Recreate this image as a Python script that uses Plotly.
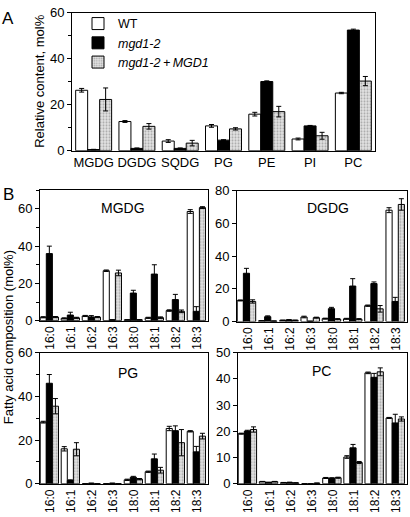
import plotly.graph_objects as go

FONT = "Liberation Sans, Arial, sans-serif"

# ---------------- Panel A data ----------------
lipid_classes = ["MGDG", "DGDG", "SQDG", "PG", "PE", "PI", "PC"]
a_wt = [26.3, 12.7, 4.2, 10.8, 15.9, 5.1, 25.1]
a_wt_err = [0.8, 0.4, 0.6, 0.6, 0.8, 0.4, 0.3]
a_mgd = [0.5, 1.0, 1.0, 4.6, 30.1, 10.8, 52.5]
a_mgd_err = [0.1, 0.2, 0.2, 0.2, 0.3, 0.2, 0.4]
a_comp = [22.3, 10.6, 3.3, 9.5, 17.0, 6.5, 30.3]
a_comp_err = [5.0, 1.2, 1.2, 0.5, 2.3, 1.5, 2.0]

# ---------------- Panel B data ----------------
fatty_acids = ["16:0", "16:1", "16:2", "16:3", "18:0", "18:1", "18:2", "18:3"]

mgdg_wt = [1.8, 1.2, 2.5, 26.8, 0.4, 1.5, 5.4, 58.6]
mgdg_wt_err = [0.3, 0.3, 0.3, 0.4, 0.1, 0.3, 0.4, 1.0]
mgdg_mgd = [36.0, 3.0, 2.0, 0.4, 14.8, 25.0, 11.3, 5.0]
mgdg_mgd_err = [4.0, 1.5, 0.7, 0.1, 1.5, 5.0, 2.8, 2.5]
mgdg_comp = [1.9, 1.5, 1.9, 25.6, 0.4, 1.6, 5.0, 60.7]
mgdg_comp_err = [0.3, 0.3, 0.3, 1.5, 0.1, 0.4, 0.7, 0.5]

dgdg_wt = [12.9, 0.5, 0.8, 2.8, 1.8, 1.7, 9.7, 68.0]
dgdg_wt_err = [0.3, 0.1, 0.1, 0.5, 0.3, 0.3, 0.4, 1.5]
dgdg_mgd = [29.5, 3.0, 1.0, 0.2, 7.9, 21.7, 23.2, 12.3]
dgdg_mgd_err = [3.0, 0.5, 0.2, 0.1, 0.8, 4.5, 1.0, 2.5]
dgdg_comp = [12.3, 0.3, 0.8, 2.4, 1.5, 1.5, 7.8, 71.5]
dgdg_comp_err = [1.0, 0.1, 0.1, 0.3, 0.3, 0.3, 2.0, 3.5]

pg_wt = [28.2, 16.0, 0.0, 0.0, 1.8, 5.5, 25.3, 24.0]
pg_wt_err = [0.4, 1.0, 0.0, 0.0, 0.3, 0.3, 1.0, 0.3]
pg_mgd = [46.0, 1.5, 0.2, 0.2, 3.0, 11.4, 24.3, 14.6]
pg_mgd_err = [4.0, 0.3, 0.1, 0.1, 0.4, 2.2, 2.2, 2.5]
pg_comp = [35.5, 15.8, 0.0, 0.0, 2.1, 6.2, 18.8, 21.8]
pg_comp_err = [3.5, 3.0, 0.0, 0.0, 0.3, 1.3, 6.0, 1.3]

pc_wt = [19.1, 0.8, 0.4, 0.0, 2.2, 10.2, 42.3, 25.1]
pc_wt_err = [0.2, 0.1, 0.1, 0.0, 0.2, 0.5, 0.3, 0.2]
pc_mgd = [20.1, 0.5, 0.5, 0.0, 2.1, 13.7, 40.6, 23.2]
pc_mgd_err = [0.3, 0.1, 0.1, 0.0, 0.2, 1.3, 1.5, 3.3]
pc_comp = [20.7, 0.8, 0.3, 0.2, 2.3, 8.1, 42.7, 24.7]
pc_comp_err = [1.0, 0.1, 0.1, 0.1, 0.2, 0.4, 1.5, 0.8]

W, H = 410, 517

def px_x(a, b):
    return [a / W, b / W]

def px_y(top, bottom):
    return [1 - bottom / H, 1 - top / H]

series_names = ["WT", "<i>mgd1-2</i>", "<i>mgd1-2\u2009+\u2009MGD1</i>"]

def bar_style(i):
    if i == 0:
        return dict(color="white", line=dict(color="black", width=1))
    if i == 1:
        return dict(color="black", line=dict(color="black", width=1))
    return dict(color="#e2e2e2", line=dict(color="black", width=1),
                pattern=dict(shape=".", fgcolor="#6e6e6e", bgcolor="#e2e2e2",
                             size=3, solidity=0.35))

fig = go.Figure()

def add_group(xcats, vals_list, errs_list, xa, ya, width, offsets, legend):
    for i, (v, e) in enumerate(zip(vals_list, errs_list)):
        fig.add_trace(go.Bar(
            x=xcats, y=v, name=series_names[i], xaxis=xa, yaxis=ya,
            width=width, offset=offsets[i],
            marker=bar_style(i),
            error_y=dict(type="data", array=e, visible=True, color="black",
                         thickness=1, width=2.5),
            showlegend=legend, legendgroup=str(i),
        ))

# Panel A
wA = 0.277
add_group(lipid_classes, [a_wt, a_mgd, a_comp], [a_wt_err, a_mgd_err, a_comp_err],
          "x", "y", wA, [-1.5 * wA, -0.5 * wA, 0.5 * wA], True)

# Panel B
wB = 0.29
offB = [-0.49, -0.49 + wB, -0.49 + 2 * wB]
add_group(fatty_acids, [mgdg_wt, mgdg_mgd, mgdg_comp],
          [mgdg_wt_err, mgdg_mgd_err, mgdg_comp_err], "x2", "y2", wB, offB, False)
add_group(fatty_acids, [dgdg_wt, dgdg_mgd, dgdg_comp],
          [dgdg_wt_err, dgdg_mgd_err, dgdg_comp_err], "x3", "y3", wB, offB, False)
add_group(fatty_acids, [pg_wt, pg_mgd, pg_comp],
          [pg_wt_err, pg_mgd_err, pg_comp_err], "x4", "y4", wB, offB, False)
add_group(fatty_acids, [pc_wt, pc_mgd, pc_comp],
          [pc_wt_err, pc_mgd_err, pc_comp_err], "x5", "y5", wB, offB, False)

tickfont = dict(family=FONT, size=13, color="black")

def xax(domain, anchor, angle=0, size=13):
    return dict(domain=domain, anchor=anchor, showline=True, mirror=True,
                linecolor="black", linewidth=1, ticks="", showgrid=False,
                tickangle=angle, tickfont=dict(family=FONT, size=size, color="black"),
                range=[-0.5, 6.5] if anchor == "y" else [-0.5, 7.5],
                fixedrange=True, ticklen=0)

def yax(domain, anchor, rng, dtick, minor=None):
    d = dict(domain=domain, anchor=anchor, range=rng, dtick=dtick, tick0=0,
             showline=True, mirror=True, linecolor="black", linewidth=1,
             ticks="outside", ticklen=4, tickcolor="black", showgrid=False,
             zeroline=False, tickfont=tickfont, fixedrange=True)
    if minor:
        d["minor"] = dict(dtick=minor, ticks="outside", ticklen=3, tickcolor="black", showgrid=False)
    return d

fig.update_layout(
    width=W, height=H,
    margin=dict(l=0, r=0, t=0, b=0),
    paper_bgcolor="white", plot_bgcolor="white",
    barmode="overlay",
    font=dict(family=FONT, size=13, color="black"),
    xaxis=xax(px_x(72, 375), "y"),
    yaxis=yax(px_y(6, 148), "x", [0, 60], 20, 10),
    xaxis2=xax(px_x(40, 208), "y2", -90, 12),
    yaxis2=yax(px_y(188, 323), "x2", [0, 70.4], 20, 10),
    xaxis3=xax(px_x(237, 407), "y3", -90, 12),
    yaxis3=yax(px_y(189, 324), "x3", [0, 80], 20),
    xaxis4=xax(px_x(40, 208), "y4", -90, 12),
    yaxis4=yax(px_y(356, 491), "x4", [0, 60], 20, 10),
    xaxis5=xax(px_x(238, 407), "y5", -90, 12),
    yaxis5=yax(px_y(356, 491), "x5", [0, 50], 10),
    legend=dict(x=78 / W, y=1 - 2 / H, xanchor="left", yanchor="top",
                bgcolor="rgba(0,0,0,0)", font=dict(family=FONT, size=12.5, color="black"),
                tracegroupgap=0, itemwidth=30, traceorder="normal"),
    showlegend=True,
)

ann = [
    dict(text="A", x=8 / W, y=1 - 12 / H, size=17),
    dict(text="B", x=8 / W, y=1 - 193 / H, size=17),
    dict(text="MGDG", x=123 / W, y=1 - 207 / H, size=14),
    dict(text="DGDG", x=328 / W, y=1 - 207 / H, size=14),
    dict(text="PG", x=128 / W, y=1 - 377 / H, size=14),
    dict(text="PC", x=321 / W, y=1 - 375 / H, size=14),
]
for a in ann:
    fig.add_annotation(text=a["text"], x=a["x"], y=a["y"], xref="paper", yref="paper",
                       showarrow=False, xanchor="center", yanchor="middle",
                       font=dict(family=FONT, size=a["size"], color="black"))

fig.add_annotation(text="Relative content, mol%", x=40 / W, y=1 - 77 / H,
                   xref="paper", yref="paper", showarrow=False, textangle=-90,
                   xanchor="center", yanchor="middle",
                   font=dict(family=FONT, size=13, color="black"))
fig.add_annotation(text="Fatty acid composition (mol%)", x=8 / W, y=1 - 340 / H,
                   xref="paper", yref="paper", showarrow=False, textangle=-90,
                   xanchor="center", yanchor="middle",
                   font=dict(family=FONT, size=13, color="black"))

fig.write_html("out.html",
               config={"displayModeBar": False},
               post_script="document.body.style.margin='0px';document.body.style.overflow='hidden';")
